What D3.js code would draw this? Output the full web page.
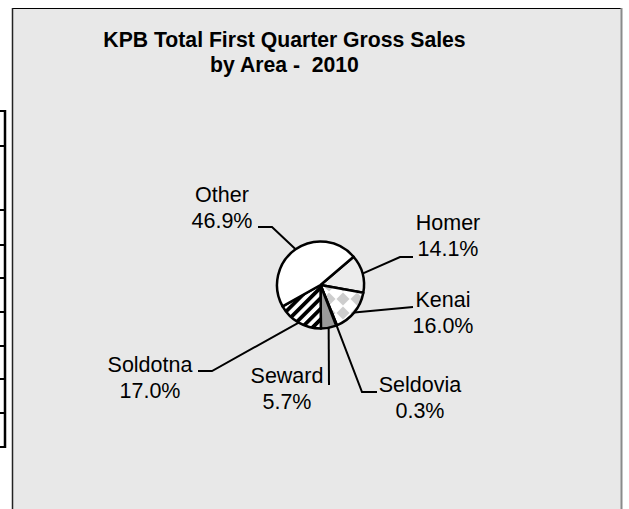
<!DOCTYPE html>
<html><head><meta charset="utf-8">
<script src="https://cdn.jsdelivr.net/npm/d3@7"></script>
<style>html,body{margin:0;padding:0;background:#fff;}svg{display:block;}</style>
</head><body>
<script>
// ---- data ----
const areas = ["Homer", "Kenai", "Seldovia", "Seward", "Soldotna", "Other"];
const shares = [14.1, 16.0, 0.3, 5.7, 17.0, 46.9];
const titleLines = ["KPB Total First Quarter Gross Sales", "by Area -  2010"];
const tableRowLines = [111, 146, 210, 245, 278, 312, 346, 379, 413, 447];

// ---- layout (positions / styles) ----
const W = 629, H = 509;
const cx = 320.5, cy = 285, R = 43.5;
const startDeg = 49.5;
const fills = {
  Homer: "#ececec", Kenai: "url(#diamonds)", Seldovia: "#ffffff",
  Seward: "#9a9a9a", Soldotna: "url(#stripes)", Other: "#ffffff"
};
const labelLayout = {
  Other:    {tx: 222, ty: 202, path: [[272, 227], [258, 227]]},
  Homer:    {tx: 448, ty: 230, path: [[400, 257], [413, 257]]},
  Kenai:    {tx: 443, ty: 307, path: [[413, 307]]},
  Seldovia: {tx: 420, ty: 392, path: [[362, 392], [377, 392]]},
  Seward:   {tx: 287, ty: 383, path: [[329, 385]]},
  Soldotna: {tx: 150, ty: 372, path: [[212, 371], [198, 371]]}
};

const svg = d3.select("body").append("svg").attr("width", W).attr("height", H);
const defs = svg.append("defs");
const T = 14;
const dp = defs.append("pattern").attr("id", "diamonds").attr("patternUnits", "userSpaceOnUse")
  .attr("width", T).attr("height", T).attr("x", cx + 3).attr("y", cy + 2);
dp.append("rect").attr("width", T).attr("height", T).attr("fill", "#ffffff");
dp.append("polygon").attr("points", `${T/2},0.5 ${T-0.5},${T/2} ${T/2},${T-0.5} 0.5,${T/2}`).attr("fill", "#cdcdcd");
const sp = defs.append("pattern").attr("id", "stripes").attr("patternUnits", "userSpaceOnUse")
  .attr("width", 7.5).attr("height", 7.5).attr("patternTransform", "rotate(45)");
sp.append("rect").attr("width", 7.5).attr("height", 7.5).attr("fill", "#ffffff");
sp.append("rect").attr("width", 3.8).attr("height", 7.5).attr("fill", "#000000");

// frame
svg.append("rect").attr("x", 12).attr("y", 8).attr("width", 610).attr("height", H).attr("fill", "#e8e8e8");
svg.append("line").attr("x1", 12).attr("x2", 622).attr("y1", 8.5).attr("y2", 8.5).attr("stroke", "#000").attr("stroke-width", 1.2);
svg.append("line").attr("x1", 12.5).attr("x2", 12.5).attr("y1", 8).attr("y2", H).attr("stroke", "#222").attr("stroke-width", 1.5);
svg.append("line").attr("x1", 621.5).attr("x2", 621.5).attr("y1", 8).attr("y2", H).attr("stroke", "#8a8a8a").attr("stroke-width", 2);

// cut-off table at left
const yT = d3.extent(tableRowLines);
svg.append("line").attr("x1", 5).attr("x2", 5).attr("y1", yT[0] - 1).attr("y2", yT[1] + 1).attr("stroke", "#000").attr("stroke-width", 2.5);
svg.selectAll(".trow").data(tableRowLines).join("line").attr("class", "trow")
  .attr("x1", 0).attr("x2", 6).attr("y1", d => d).attr("y2", d => d).attr("stroke", "#000").attr("stroke-width", 2);

// title
svg.append("text").attr("x", 284.5).attr("y", 47).attr("text-anchor", "middle")
  .attr("font-family", "Liberation Sans, Arial, sans-serif").attr("font-weight", "bold").attr("font-size", 21.2)
  .selectAll("tspan").data(titleLines).join("tspan")
  .attr("x", 284.5).attr("dy", (d, i) => i === 0 ? 0 : 25).style("white-space", "pre").text(d => d);

// pie
const data = areas.map((a, i) => ({area: a, value: shares[i]}));
const pie = d3.pie().sort(null).value(d => d.value)
  .startAngle(startDeg * Math.PI / 180).endAngle(startDeg * Math.PI / 180 + 2 * Math.PI);
const arcs = pie(data);
const arc = d3.arc().innerRadius(0).outerRadius(R);
const g = svg.append("g").attr("transform", `translate(${cx},${cy})`);
g.selectAll("path").data(arcs).join("path")
  .attr("d", arc).attr("fill", d => fills[d.data.area])
  .attr("stroke", "#000").attr("stroke-width", 2.5).attr("stroke-linejoin", "round");

// leaders and labels
const edgeArc = d3.arc().innerRadius(R).outerRadius(R);
arcs.forEach(d => {
  const L = labelLayout[d.data.area];
  const c = edgeArc.centroid(d);
  const pts = [[cx + c[0], cy + c[1]]].concat(L.path);
  svg.append("path").attr("d", d3.line()(pts)).attr("fill", "none")
    .attr("stroke", "#000").attr("stroke-width", 2);
  const t = svg.append("text").attr("text-anchor", "middle")
    .attr("font-family", "Liberation Sans, Arial, sans-serif").attr("font-size", 21.5).attr("fill", "#000");
  t.append("tspan").attr("x", L.tx).attr("y", L.ty).text(d.data.area);
  t.append("tspan").attr("x", L.tx).attr("y", L.ty + 26).text(d.data.value.toFixed(1) + "%");
});
</script>
</body></html>
